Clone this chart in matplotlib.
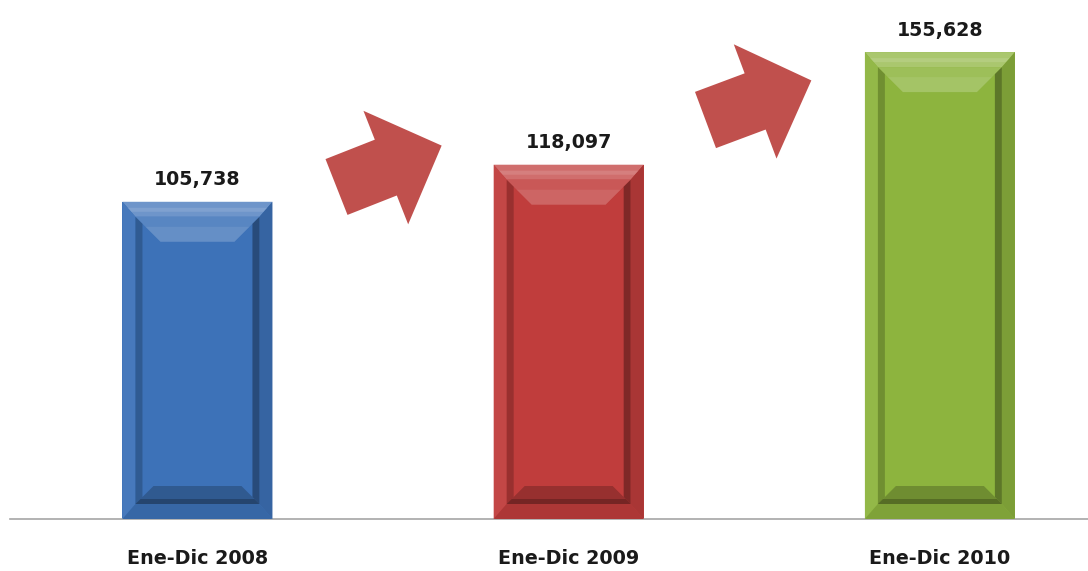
"""
Ventas Ene-Dic 2008-2010: barras con bisel y flechas de crecimiento
"""

import matplotlib
matplotlib.use('Agg')
import matplotlib.pyplot as plt
import matplotlib.patches as patches
import matplotlib.colors as mcolors
import numpy as np

# datos
periodos = ['Ene-Dic 2008', 'Ene-Dic 2009', 'Ene-Dic 2010']
valores = [105738, 118097, 155628]
colores = ['#3d72b8', '#c03d3c', '#8db43e']

W, H = 1088, 571


def mezclar(color, otro, t):
    c = np.array(mcolors.to_rgb(color))
    o = np.array(mcolors.to_rgb(otro))
    return tuple(c * (1 - t) + o * t)


def poligono(ax, pts_px, color, alpha=1.0):
    # los puntos vienen en pixeles de pantalla, se pasan a datos
    pts = ax.transData.inverted().transform(np.array(pts_px, dtype=float))
    ax.add_patch(patches.Polygon(pts, closed=True, facecolor=color,
                                 edgecolor='none', alpha=alpha, zorder=3))


def biselar(ax, rect, base):
    to_px = ax.transData.transform
    (x0, y0), (x1, y1) = to_px([(rect.get_x(), rect.get_y()),
                                (rect.get_x() + rect.get_width(),
                                 rect.get_y() + rect.get_height())])
    bx, by = 13, 15
    ix0, ix1, iy0, iy1 = x0 + bx, x1 - bx, y0 + by, y1 - by

    claro = mezclar(base, 'white', 0.25)
    oscuro = mezclar(base, 'black', 0.25)
    sombra = mezclar(base, 'black', 0.45)

    # marco exterior
    poligono(ax, [(x0, y1), (x1, y1), (ix1, iy1), (ix0, iy1)], claro)
    poligono(ax, [(x0, y0), (x0, y1), (ix0, iy1), (ix0, iy0)], mezclar(base, 'white', 0.05))
    poligono(ax, [(x1, y0), (x1, y1), (ix1, iy1), (ix1, iy0)], mezclar(base, 'black', 0.12))
    poligono(ax, [(x0, y0), (x1, y0), (ix1, iy0), (ix0, iy0)], mezclar(base, 'black', 0.1))
    # brillo suave en el borde superior
    poligono(ax, [(x0 + 5, y1 - 6), (x1 - 5, y1 - 6), (x1 - 9, y1 - 10), (x0 + 9, y1 - 10)],
             'white', 0.12)

    # cara interior con sus propios biseles
    poligono(ax, [(ix0, iy0), (ix1, iy0), (ix1, iy1), (ix0, iy1)], base)
    d = 25
    poligono(ax, [(ix0, iy1), (ix1, iy1), (ix1 - d, iy1 - d), (ix0 + d, iy1 - d)],
             mezclar(base, 'white', 0.14))
    poligono(ax, [(ix0 + 10, iy1 - 10), (ix1 - 10, iy1 - 10), (ix1 - d, iy1 - d), (ix0 + d, iy1 - d)],
             'white', 0.08)
    b = 18
    poligono(ax, [(ix0, iy0), (ix1, iy0), (ix1 - b, iy0 + b), (ix0 + b, iy0 + b)],
             oscuro, 0.85)
    poligono(ax, [(ix0, iy0), (ix0, iy1), (ix0 + 7, iy1 - 7), (ix0 + 7, iy0 + 7)], sombra, 0.45)
    poligono(ax, [(ix1, iy0), (ix1, iy1), (ix1 - 7, iy1 - 7), (ix1 - 7, iy0 + 7)], sombra, 0.75)
    poligono(ax, [(ix0, iy0), (ix1, iy0), (ix1 - 5, iy0 + 5), (ix0 + 5, iy0 + 5)], sombra, 0.75)


def flecha(fig, cola, angulo, largo=113, ancho=60, ancho_punta=122, largo_punta=60,
           color='#c0504d'):
    # cola en pixeles de imagen (y hacia abajo)
    cx, cy = cola[0], H - cola[1]
    t = np.radians(angulo)
    u = np.array([np.cos(t), np.sin(t)])
    v = np.array([-np.sin(t), np.cos(t)])
    c = largo - largo_punta
    local = [(0, ancho / 2), (c, ancho / 2), (c, ancho_punta / 2), (largo, 0),
             (c, -ancho_punta / 2), (c, -ancho / 2), (0, -ancho / 2)]
    pts = [np.array([cx, cy]) + a * u + b * v for a, b in local]
    pts = [(p[0] / W, p[1] / H) for p in pts]
    fig.add_artist(patches.Polygon(pts, closed=True, facecolor=color,
                                   edgecolor='none', transform=fig.transFigure))


fig = plt.figure(figsize=(W / 100, H / 100), dpi=100)
ax = fig.add_axes([10 / W, (H - 519) / H, 1 - 10 / W, 510 / H])

x = np.arange(len(periodos))
barras = ax.bar(x, valores, width=0.404, color=colores, zorder=2)
ax.set_xlim(-0.505, 2.399)
ax.set_ylim(0, 170000)

for rect, col in zip(barras, colores):
    biselar(ax, rect, col)

for xi, val in zip(x, valores):
    ax.annotate(f'{val:,}', xy=(xi, val), xytext=(0, 9), textcoords='offset points',
                ha='center', va='bottom', fontsize=13.7, fontweight='bold',
                color='#1a1a1a')

ax.set_xticks(x, periodos)
ax.tick_params(axis='x', length=0, pad=21.5, labelsize=13.8)
for lbl in ax.get_xticklabels():
    lbl.set_fontweight('bold')
    lbl.set_color('#1a1a1a')
ax.set_yticks([])
for lado in ('top', 'left', 'right'):
    ax.spines[lado].set_visible(False)
ax.spines['bottom'].set_color('#a6a6a6')
ax.spines['bottom'].set_linewidth(1.2)

flecha(fig, (336.5, 187), 21.5)
flecha(fig, (705.5, 120), 20.5)

fig.savefig('out.png', dpi=100)
